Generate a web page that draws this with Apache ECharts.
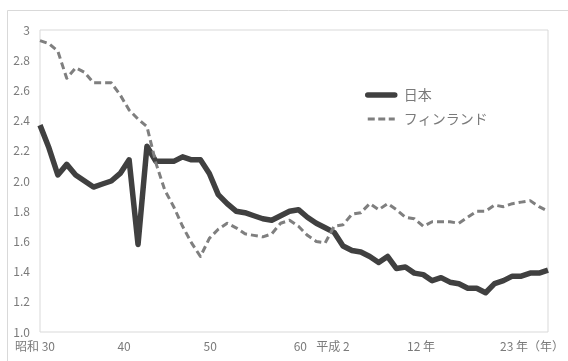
<!DOCTYPE html>
<html>
<head>
<meta charset="utf-8">
<script src="https://cdn.jsdelivr.net/npm/echarts@6/dist/echarts.min.js"></script>
<style>
  html, body { margin: 0; padding: 0; background: #ffffff; }
  #chart { width: 568px; height: 361px; }
</style>
</head>
<body>
<div id="chart"></div>
<script>
// Total fertility rate, Japan vs Finland, 1955 (昭和30) – 2012
const years = [
  '1955','1956','1957','1958','1959','1960','1961','1962','1963','1964',
  '1965','1966','1967','1968','1969','1970','1971','1972','1973','1974',
  '1975','1976','1977','1978','1979','1980','1981','1982','1983','1984',
  '1985','1986','1987','1988','1989','1990','1991','1992','1993','1994',
  '1995','1996','1997','1998','1999','2000','2001','2002','2003','2004',
  '2005','2006','2007','2008','2009','2010','2011','2012'
];

const japan = [
  2.37, 2.22, 2.04, 2.11, 2.04, 2.00, 1.96, 1.98, 2.00, 2.05,
  2.14, 1.58, 2.23, 2.13, 2.13, 2.13, 2.16, 2.14, 2.14, 2.05,
  1.91, 1.85, 1.80, 1.79, 1.77, 1.75, 1.74, 1.77, 1.80, 1.81,
  1.76, 1.72, 1.69, 1.66, 1.57, 1.54, 1.53, 1.50, 1.46, 1.50,
  1.42, 1.43, 1.39, 1.38, 1.34, 1.36, 1.33, 1.32, 1.29, 1.29,
  1.26, 1.32, 1.34, 1.37, 1.37, 1.39, 1.39, 1.41
];

const finland = [
  2.93, 2.91, 2.86, 2.68, 2.75, 2.72, 2.65, 2.65, 2.65, 2.57,
  2.47, 2.41, 2.36, 2.12, 1.94, 1.83, 1.70, 1.59, 1.50, 1.62,
  1.68, 1.72, 1.69, 1.65, 1.64, 1.63, 1.65, 1.72, 1.74, 1.70,
  1.64, 1.60, 1.59, 1.70, 1.71, 1.78, 1.79, 1.85, 1.81, 1.85,
  1.81, 1.76, 1.75, 1.70, 1.73, 1.73, 1.73, 1.72, 1.76, 1.80,
  1.80, 1.84, 1.83, 1.85, 1.86, 1.87, 1.83, 1.80
];

const seriesNames = ['日本', 'フィンランド'];

// x tick labels (Japanese era years), keyed by calendar year
const xTickLabels = {
  '1955': '昭和 30',
  '1965': '40',
  '1975': '50',
  '1985': '60',
  '1990': '平成 2',
  '2000': '12 年',
  '2011': '23 年（年）'
};

const yTickLabels = ['1.0', '1.2', '1.4', '1.6', '1.8', '2.0', '2.2', '2.4', '2.6', '2.8', '3'];

// leftward nudge (px) for each x tick label
const xLabelNudge = { '1955': 5, '1965': 5, '1975': 8, '1985': 7, '1990': 19, '2000': 20, '2011': 7 };

const FONT = '"Noto Sans CJK JP", "Noto Sans", sans-serif';
const LABEL_COLOR = '#7a7a7a';

const rich = {};
Object.keys(xLabelNudge).forEach(function (k) {
  rich['s' + k] = {
    fontFamily: FONT,
    fontSize: 12,
    color: LABEL_COLOR,
    padding: [0, xLabelNudge[k] * 2, 0, 0]
  };
});

const chart = echarts.init(document.getElementById('chart'), null, { renderer: 'canvas' });

chart.setOption({
  animation: false,
  backgroundColor: '#ffffff',
  textStyle: { fontFamily: FONT },
  graphic: [{
    type: 'rect',
    silent: true,
    shape: { x: 7.5, y: 10.5, width: 600, height: 400 },
    style: { fill: 'none', stroke: '#d9d9d9', lineWidth: 1 }
  }],
  grid: {
    left: 40, right: 20, top: 30, bottom: 29,
    show: true,
    borderColor: '#d9d9d9',
    borderWidth: 1
  },
  legend: {
    orient: 'vertical',
    left: 360,
    top: 83,
    itemWidth: 27,
    itemHeight: 14,
    itemGap: 10,
    itemStyle: { opacity: 0 },
    textStyle: { fontFamily: FONT, fontSize: 14, color: '#7a7a7a', padding: [0, 0, 0, 4] },
    lineStyle: { width: 'inherit' },
    data: [
      { name: seriesNames[0], lineStyle: { cap: 'round' } },
      { name: seriesNames[1], lineStyle: { type: [7, 3.5] } }
    ]
  },
  xAxis: {
    type: 'category',
    data: years,
    boundaryGap: false,
    axisLine: { show: false },
    axisTick: { show: false },
    splitLine: { show: false },
    axisLabel: {
      interval: 0,
      margin: 8,
      fontFamily: FONT,
      fontSize: 12,
      color: LABEL_COLOR,
      formatter: function (v) {
        const t = xTickLabels[v];
        return t ? '{s' + v + '|' + t + '}' : '';
      },
      rich: rich
    }
  },
  yAxis: {
    type: 'value',
    min: 1,
    max: 3,
    interval: 0.2,
    axisLine: { show: false },
    axisTick: { show: false },
    splitLine: { show: false },
    axisLabel: {
      margin: 10,
      fontFamily: FONT,
      fontSize: 12,
      color: LABEL_COLOR,
      formatter: function (v, i) { return yTickLabels[i]; }
    }
  },
  series: [
    {
      name: seriesNames[0],
      type: 'line',
      data: japan,
      symbol: 'none',
      smooth: false,
      lineStyle: { color: '#404040', width: 5.5, join: 'round' },
      itemStyle: { color: '#404040' }
    },
    {
      name: seriesNames[1],
      type: 'line',
      data: finland,
      symbol: 'none',
      smooth: false,
      lineStyle: { color: '#7f7f7f', width: 3, type: [7, 4], join: 'round' },
      itemStyle: { color: '#7f7f7f' }
    }
  ]
});
</script>
</body>
</html>
